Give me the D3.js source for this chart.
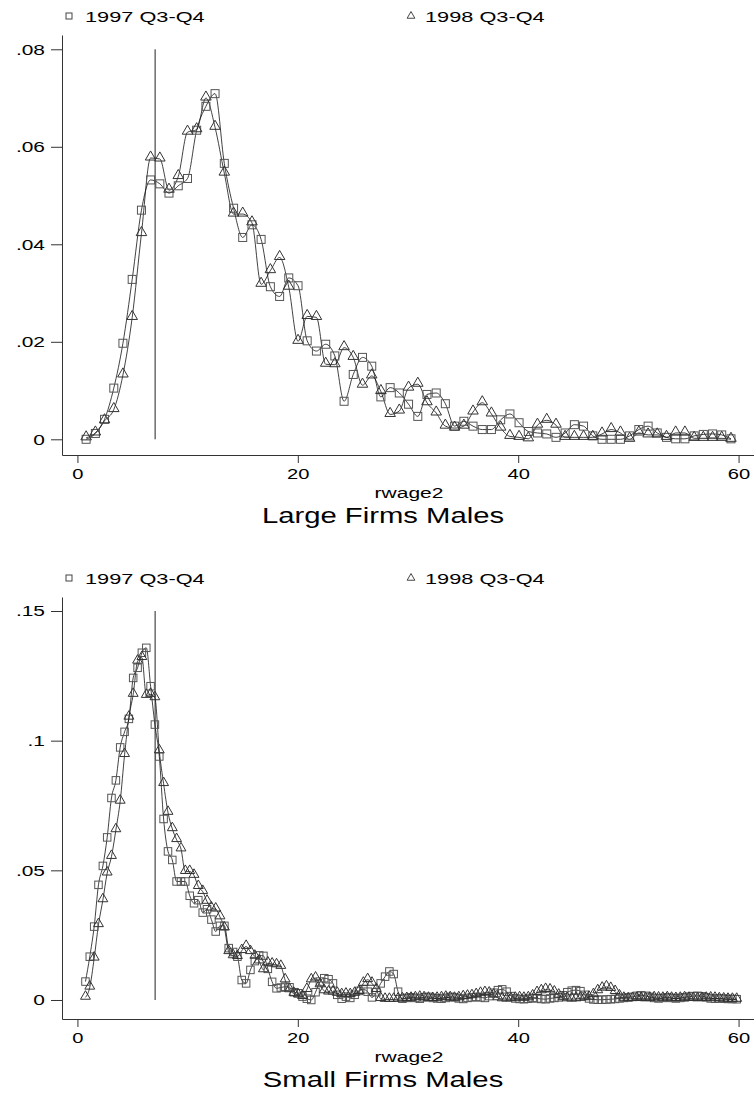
<!DOCTYPE html>
<html lang="en">
<head>
    <meta charset="UTF-8">
    <title>rwage2 Large / Small Firms Males</title>
    <script src="https://cdn.jsdelivr.net/npm/d3@7/dist/d3.min.js"></script>
    <style>
        body { margin: 0; background: #fff; }
        svg { display: block; font-family: "Liberation Sans", Arial, sans-serif; }
    </style>
</head>
<body>
    <div class="chart"></div>
</body>
<script>
    // legend labels
    const seriesNames = ['1997 Q3-Q4', '1998 Q3-Q4']
    const refLineX = 7.05

    // Large firms: bin centres and densities
    const largeX = [0.79, 1.63, 2.46, 3.30, 4.13, 4.97, 5.81, 6.64, 7.48, 8.31,
        9.15, 9.99, 10.82, 11.66, 12.49, 13.33, 14.17, 15.00, 15.84, 16.67,
        17.51, 18.35, 19.18, 20.02, 20.85, 21.69, 22.53, 23.36, 24.20, 25.03,
        25.87, 26.71, 27.54, 28.38, 29.21, 30.05, 30.89, 31.72, 32.56, 33.39,
        34.23, 35.07, 35.90, 36.74, 37.57, 38.41, 39.25, 40.08, 40.92, 41.75,
        42.59, 43.43, 44.26, 45.10, 45.93, 46.77, 47.61, 48.44, 49.28, 50.11,
        50.95, 51.79, 52.62, 53.46, 54.29, 55.13, 55.97, 56.80, 57.64, 58.47,
        59.31]
    const large1997 = [0.0000, 0.0012, 0.0041, 0.0105, 0.0197, 0.0328, 0.0470, 0.0532, 0.0524, 0.0505,
        0.0520, 0.0535, 0.0634, 0.0683, 0.0709, 0.0566, 0.0474, 0.0414, 0.0440, 0.0410,
        0.0313, 0.0293, 0.0331, 0.0315, 0.0202, 0.0181, 0.0195, 0.0171, 0.0078, 0.0133,
        0.0168, 0.0150, 0.0087, 0.0106, 0.0095, 0.0072, 0.0047, 0.0092, 0.0095, 0.0073,
        0.0027, 0.0037, 0.0027, 0.0020, 0.0020, 0.0040, 0.0052, 0.0034, 0.0016, 0.0013,
        0.0011, 0.0004, 0.0013, 0.0030, 0.0027, 0.0007, 0.0000, 0.0000, 0.0000, 0.0007,
        0.0020, 0.0027, 0.0013, 0.0004, 0.0001, 0.0001, 0.0007, 0.0010, 0.0011, 0.0009,
        0.0001]
    const large1998 = [0.0003, 0.0013, 0.0038, 0.0061, 0.0132, 0.0250, 0.0422, 0.0577, 0.0575, 0.0511,
        0.0539, 0.0630, 0.0635, 0.0700, 0.0640, 0.0546, 0.0462, 0.0462, 0.0444, 0.0318,
        0.0346, 0.0373, 0.0312, 0.0201, 0.0252, 0.0250, 0.0154, 0.0153, 0.0188, 0.0168,
        0.0111, 0.0130, 0.0098, 0.0051, 0.0058, 0.0105, 0.0113, 0.0075, 0.0054, 0.0027,
        0.0023, 0.0027, 0.0056, 0.0075, 0.0052, 0.0023, 0.0006, 0.0004, 0.0001, 0.0029,
        0.0039, 0.0029, 0.0004, 0.0004, 0.0004, 0.0004, 0.0011, 0.0020, 0.0013, 0.0000,
        0.0013, 0.0009, 0.0009, 0.0004, 0.0013, 0.0013, 0.0002, 0.0002, 0.0002, 0.0002,
        0.0000]

    // Small firms: bin centres and densities
    const smallX = [0.73, 1.12, 1.52, 1.91, 2.31, 2.70, 3.09, 3.49, 3.88, 4.28,
        4.67, 5.06, 5.46, 5.85, 6.25, 6.64, 7.03, 7.43, 7.82, 8.22,
        8.61, 9.00, 9.40, 9.79, 10.19, 10.58, 10.97, 11.37, 11.76, 12.16,
        12.55, 12.94, 13.34, 13.73, 14.13, 14.52, 14.91, 15.31, 15.70, 16.10,
        16.49, 16.88, 17.28, 17.67, 18.07, 18.46, 18.85, 19.25, 19.64, 20.04,
        20.43, 20.82, 21.22, 21.61, 22.01, 22.40, 22.79, 23.19, 23.58, 23.98,
        24.37, 24.76, 25.16, 25.55, 25.95, 26.34, 26.73, 27.13, 27.52, 27.92,
        28.31, 28.70, 29.10, 29.49, 29.89, 30.28, 30.67, 31.07, 31.46, 31.86,
        32.25, 32.64, 33.04, 33.43, 33.83, 34.22, 34.61, 35.01, 35.40, 35.80,
        36.19, 36.58, 36.98, 37.37, 37.77, 38.16, 38.55, 38.95, 39.34, 39.74,
        40.13, 40.52, 40.92, 41.31, 41.71, 42.10, 42.49, 42.89, 43.28, 43.68,
        44.07, 44.46, 44.86, 45.25, 45.65, 46.04, 46.43, 46.83, 47.22, 47.62,
        48.01, 48.40, 48.80, 49.19, 49.59, 49.98, 50.37, 50.77, 51.16, 51.56,
        51.95, 52.34, 52.74, 53.13, 53.53, 53.92, 54.31, 54.71, 55.10, 55.50,
        55.89, 56.28, 56.68, 57.07, 57.47, 57.86, 58.25, 58.65, 59.04, 59.44,
        59.83]
    const small1997 = [0.0071, 0.0167, 0.0283, 0.0444, 0.0517, 0.0627, 0.0779, 0.0847, 0.0974, 0.1034,
        0.1084, 0.1242, 0.1281, 0.1339, 0.1358, 0.1210, 0.1062, 0.0939, 0.0698, 0.0573,
        0.0540, 0.0457, 0.0457, 0.0457, 0.0402, 0.0373, 0.0385, 0.0337, 0.0350, 0.0310,
        0.0264, 0.0286, 0.0286, 0.0200, 0.0185, 0.0167, 0.0077, 0.0064, 0.0116, 0.0150,
        0.0172, 0.0170, 0.0120, 0.0070, 0.0045, 0.0048, 0.0051, 0.0049, 0.0030, 0.0026,
        0.0013, 0.0005, 0.0000, 0.0030, 0.0071, 0.0084, 0.0080, 0.0064, 0.0020, 0.0005,
        0.0013, 0.0008, 0.0020, 0.0035, 0.0041, 0.0032, 0.0010, 0.0030, 0.0064, 0.0090,
        0.0110, 0.0100, 0.0032, 0.0005, 0.0008, 0.0010, 0.0008, 0.0005, 0.0010, 0.0012,
        0.0008, 0.0006, 0.0005, 0.0008, 0.0012, 0.0010, 0.0006, 0.0004, 0.0008, 0.0010,
        0.0012, 0.0010, 0.0008, 0.0015, 0.0028, 0.0038, 0.0041, 0.0032, 0.0015, 0.0006,
        0.0004, 0.0003, 0.0005, 0.0008, 0.0006, 0.0004, 0.0003, 0.0006, 0.0008, 0.0010,
        0.0018, 0.0030, 0.0036, 0.0038, 0.0034, 0.0020, 0.0006, 0.0002, 0.0001, 0.0001,
        0.0002, 0.0003, 0.0004, 0.0006, 0.0008, 0.0010, 0.0012, 0.0016, 0.0018, 0.0016,
        0.0012, 0.0008, 0.0006, 0.0008, 0.0010, 0.0008, 0.0006, 0.0008, 0.0010, 0.0013,
        0.0015, 0.0016, 0.0014, 0.0010, 0.0006, 0.0005, 0.0006, 0.0005, 0.0004, 0.0004,
        0.0003]
    const small1998 = [0.0010, 0.0049, 0.0161, 0.0290, 0.0386, 0.0489, 0.0553, 0.0656, 0.0766, 0.0946,
        0.1090, 0.1178, 0.1306, 0.1320, 0.1174, 0.1178, 0.1165, 0.0960, 0.0834, 0.0723,
        0.0660, 0.0618, 0.0582, 0.0495, 0.0495, 0.0480, 0.0437, 0.0418, 0.0380, 0.0354,
        0.0350, 0.0320, 0.0277, 0.0186, 0.0170, 0.0167, 0.0190, 0.0206, 0.0186, 0.0168,
        0.0150, 0.0116, 0.0142, 0.0138, 0.0135, 0.0129, 0.0077, 0.0039, 0.0025, 0.0019,
        0.0013, 0.0040, 0.0077, 0.0084, 0.0058, 0.0035, 0.0030, 0.0030, 0.0025, 0.0020,
        0.0022, 0.0020, 0.0025, 0.0032, 0.0064, 0.0078, 0.0064, 0.0040, 0.0005, 0.0002,
        0.0002, 0.0002, 0.0003, 0.0004, 0.0005, 0.0006, 0.0008, 0.0010, 0.0008, 0.0006,
        0.0005, 0.0006, 0.0008, 0.0010, 0.0008, 0.0006, 0.0008, 0.0012, 0.0014, 0.0016,
        0.0020, 0.0025, 0.0028, 0.0026, 0.0018, 0.0008, 0.0004, 0.0003, 0.0004, 0.0006,
        0.0008, 0.0006, 0.0008, 0.0015, 0.0028, 0.0035, 0.0040, 0.0038, 0.0030, 0.0018,
        0.0008, 0.0004, 0.0003, 0.0004, 0.0006, 0.0008, 0.0010, 0.0020, 0.0035, 0.0045,
        0.0050, 0.0044, 0.0032, 0.0015, 0.0006, 0.0004, 0.0005, 0.0006, 0.0005, 0.0004,
        0.0006, 0.0008, 0.0007, 0.0006, 0.0008, 0.0006, 0.0005, 0.0006, 0.0008, 0.0006,
        0.0005, 0.0004, 0.0005, 0.0006, 0.0007, 0.0006, 0.0004, 0.0003, 0.0002, 0.0002,
        0.0002]

    const xTicks = [0, 20, 40, 60]
    const largeYTicks = [0, 0.02, 0.04, 0.06, 0.08]
    const smallYTicks = [0, 0.05, 0.1, 0.15]

    const width = 754
    const height = 1093
    const svg = d3.select('.chart')
        .append('svg')
        .attr('width', width)
        .attr('height', height)

    const yFmt = d => d === 0 ? '0' : String(+d.toFixed(2)).replace(/^0/, '')

    // the scanned original has its lettering stretched sideways
    function wideText(parent, x, y, str, size, sx, anchor) {
        return parent.append('text')
            .attr('transform', `translate(${x}, ${y}) scale(${sx}, 1)`)
            .attr('text-anchor', anchor || 'start')
            .style('font-size', size + 'px')
            .text(str)
    }

    function drawPanel(opt) {
        const g = svg.append('g')
        const x = d3.scaleLinear().domain([-1.4, 61.4]).range([62, 754])
        const y = d3.scaleLinear().domain(opt.yDomain).range([opt.bottom, opt.top])

        // axes
        const gx = g.append('g')
            .attr('transform', `translate(0, ${opt.bottom})`)
            .call(d3.axisBottom(x).tickValues(xTicks).tickSize(8).tickSizeOuter(0).tickPadding(5))
        gx.selectAll('.tick text').attr('transform', 'scale(1.3, 1)')
        const gy = g.append('g')
            .attr('transform', `translate(62, 0)`)
            .call(d3.axisLeft(y).tickValues(opt.yTicks).tickFormat(yFmt).tickSize(11).tickSizeOuter(0).tickPadding(6))
        gy.selectAll('.tick text').attr('transform', 'translate(-17, 0) scale(1.35, 1) translate(17, 0)')
        g.selectAll('.domain').attr('stroke', '#333')
        g.selectAll('.tick line').attr('stroke', '#333')
        g.selectAll('.tick text').attr('fill', '#000').style('font-size', '15.5px')
            .style('font-family', '"Liberation Sans", Arial, sans-serif')

        // reference line
        g.append('line')
            .attr('x1', x(refLineX)).attr('x2', x(refLineX))
            .attr('y1', y(0)).attr('y2', y(opt.yTicks[opt.yTicks.length - 1]))
            .attr('stroke', '#222').attr('stroke-width', 1)

        const pts1 = opt.xs.map((d, i) => [d, opt.s1[i]])
        const pts2 = opt.xs.map((d, i) => [d, opt.s2[i]])
        const line = d3.line().x(d => x(d[0])).y(d => y(d[1])).curve(d3.curveMonotoneX)

        g.append('path').datum(pts1).attr('d', line)
            .attr('fill', 'none').attr('stroke', '#111').attr('stroke-width', 0.8)
        g.append('path').datum(pts2).attr('d', line)
            .attr('fill', 'none').attr('stroke', '#111').attr('stroke-width', 0.8)

        const ms = opt.markSize
        g.selectAll('.sq').data(pts1).enter().append('rect')
            .attr('x', d => x(d[0]) - ms / 2)
            .attr('y', d => y(d[1]) - ms / 2)
            .attr('width', ms).attr('height', ms)
            .attr('fill', 'none').attr('stroke', '#555').attr('stroke-width', 1)
        const tri = d3.symbol().type(d3.symbolTriangle).size(ms * ms * 0.75)
        g.selectAll('.tri').data(pts2).enter().append('path')
            .attr('transform', d => `translate(${x(d[0])}, ${y(d[1]) - 1})`)
            .attr('d', tri)
            .attr('fill', 'none').attr('stroke', '#333').attr('stroke-width', 1)

        // legend
        const ly = opt.top - 19
        g.append('rect').attr('x', 66).attr('y', ly - 3).attr('width', 6).attr('height', 6)
            .attr('fill', 'none').attr('stroke', '#444').attr('stroke-width', 1)
        wideText(g, 85, ly + 5.5, seriesNames[0], 15, 1.45)
        g.append('path').attr('transform', `translate(411, ${ly})`)
            .attr('d', d3.symbol().type(d3.symbolTriangle).size(26))
            .attr('fill', 'none').attr('stroke', '#444').attr('stroke-width', 1)
        wideText(g, 425, ly + 5.5, seriesNames[1], 15, 1.45)

        // titles
        wideText(g, 409, opt.bottom + 43, 'rwage2', 15, 1.4, 'middle')
        wideText(g, 383, opt.bottom + 68, opt.title, 22, 1.33, 'middle')
    }

    drawPanel({
        top: 35, bottom: 455, yDomain: [-0.00322, 0.08293], yTicks: largeYTicks,
        xs: largeX, s1: large1997, s2: large1998, markSize: 8, title: 'Large Firms Males'
    })
    drawPanel({
        top: 597, bottom: 1019, yDomain: [-0.00733, 0.1554], yTicks: smallYTicks,
        xs: smallX, s1: small1997, s2: small1998, markSize: 7.5, title: 'Small Firms Males'
    })
</script>
</html>
